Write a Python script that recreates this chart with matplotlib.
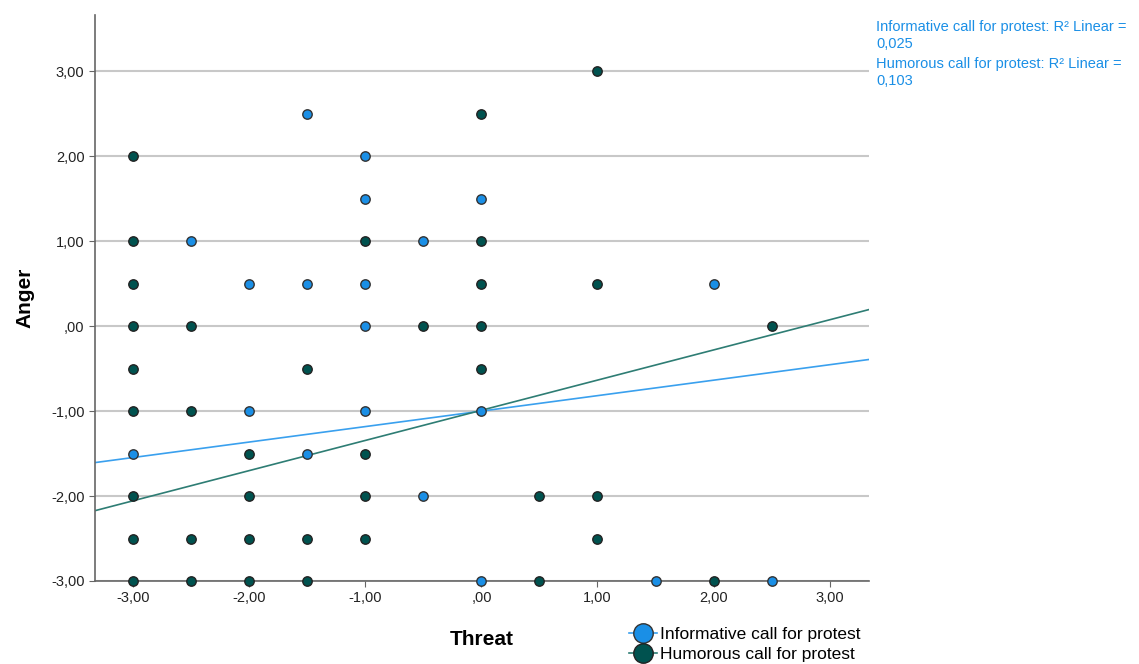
import numpy as np
import matplotlib.pyplot as plt
from matplotlib.lines import Line2D

plt.rcParams['font.family'] = ['Liberation Sans', 'DejaVu Sans']

# ── dados ──
info_x = [-1.5, -1, -1, 0, -2.5, -0.5, -2, -1.5, -1, 2, -1, -2, -1, 0, -3, -1.5, -0.5, 0, 1.5, 2.5]
info_y = [2.5, 2, 1.5, 1.5, 1, 1, 0.5, 0.5, 0.5, 0.5, 0, -1, -1, -1, -1.5, -1.5, -2, -3, -3, -3]

humor_x = [1, 0, -3, -3, -1, 0, -3, 0, 1, -3, -2.5, -0.5, 0, 2.5, -3, -1.5, 0, -3, -2.5,
           -3, -2, -1, -2, -1, 0.5, 1, -3, -2.5, -2, -1.5, -1, 1, -3, -2.5, -2, -1.5, 0.5, 2]
humor_y = [3, 2.5, 2, 1, 1, 1, 0.5, 0.5, 0.5, 0, 0, 0, 0, 0, -0.5, -0.5, -0.5, -1, -1,
           -2, -1.5, -1.5, -2, -2, -2, -2, -2.5, -2.5, -2.5, -2.5, -2.5, -2.5, -3, -3, -3, -3, -3, -3]

# retas de ajuste (intercepto, inclinação)
info_fit = (-1.00, 0.182)
humor_fit = (-0.99, 0.355)
r2_info = "0,025"
r2_humor = "0,103"

ticks = [-3, -2, -1, 0, 1, 2, 3]
tick_labels = ["-3,00", "-2,00", "-1,00", ",00", "1,00", "2,00", "3,00"]

C_INFO = '#1a8fe6'
C_HUMOR = '#00524f'
L_INFO = '#3aa0ee'
L_HUMOR = '#2e7d74'

fig = plt.figure(figsize=(11.39, 6.64), dpi=100)
ax = fig.add_axes([0.0834, 0.125, 0.6796, 0.852])

xlim = (-3.33, 3.34)
ax.set_xlim(*xlim)
ax.set_ylim(-3.0, 3.66)

for y in ticks:
    ax.axhline(y, color='#c8c8c8', linewidth=1.5, zorder=0)

xs = np.array(xlim)
ax.plot(xs, info_fit[0] + info_fit[1] * xs, color=L_INFO, linewidth=1.2, zorder=2)
ax.plot(xs, humor_fit[0] + humor_fit[1] * xs, color=L_HUMOR, linewidth=1.2, zorder=2)

ax.scatter(info_x, info_y, s=46, color=C_INFO, edgecolor='#333333', linewidth=1.0, zorder=3, clip_on=False)
ax.scatter(humor_x, humor_y, s=46, color=C_HUMOR, edgecolor='#222222', linewidth=1.0, zorder=3, clip_on=False)

ax.set_xticks(ticks)
ax.set_xticklabels(tick_labels)
ax.set_yticks(ticks)
ax.set_yticklabels(tick_labels)
ax.tick_params(labelsize=10.5, color='#666666', length=4, labelcolor='#222222')
for side in ['top', 'right']:
    ax.spines[side].set_visible(False)
for side in ['left', 'bottom']:
    ax.spines[side].set_color('#666666')
    ax.spines[side].set_linewidth(1.2)

ax.set_xlabel('Threat', fontsize=15, fontweight='bold', labelpad=18)
ax.set_ylabel('Anger', fontsize=15, fontweight='bold', labelpad=12)

fig.text(0.769, 0.970, f"Informative call for protest: R\u00b2 Linear =\n{r2_info}",
         color=C_INFO, fontsize=10.5, va='top', ha='left', linespacing=1.3)
fig.text(0.769, 0.914, f"Humorous call for protest: R\u00b2 Linear =\n{r2_humor}",
         color=C_INFO, fontsize=10.5, va='top', ha='left', linespacing=1.3)

handles = [
    Line2D([], [], color=L_INFO, marker='o', markersize=14, markerfacecolor=C_INFO,
           markeredgecolor='#333333', linewidth=1.2),
    Line2D([], [], color=L_HUMOR, marker='o', markersize=14, markerfacecolor=C_HUMOR,
           markeredgecolor='#222222', linewidth=1.2),
]
fig.legend(handles, ['Informative call for protest', 'Humorous call for protest'],
           loc='lower left', bbox_to_anchor=(0.542, -0.016), frameon=False,
           fontsize=12.5, handlelength=1.6, handletextpad=0.15, labelspacing=0.3,
           borderpad=0.2)

fig.savefig('out.png', dpi=100)
